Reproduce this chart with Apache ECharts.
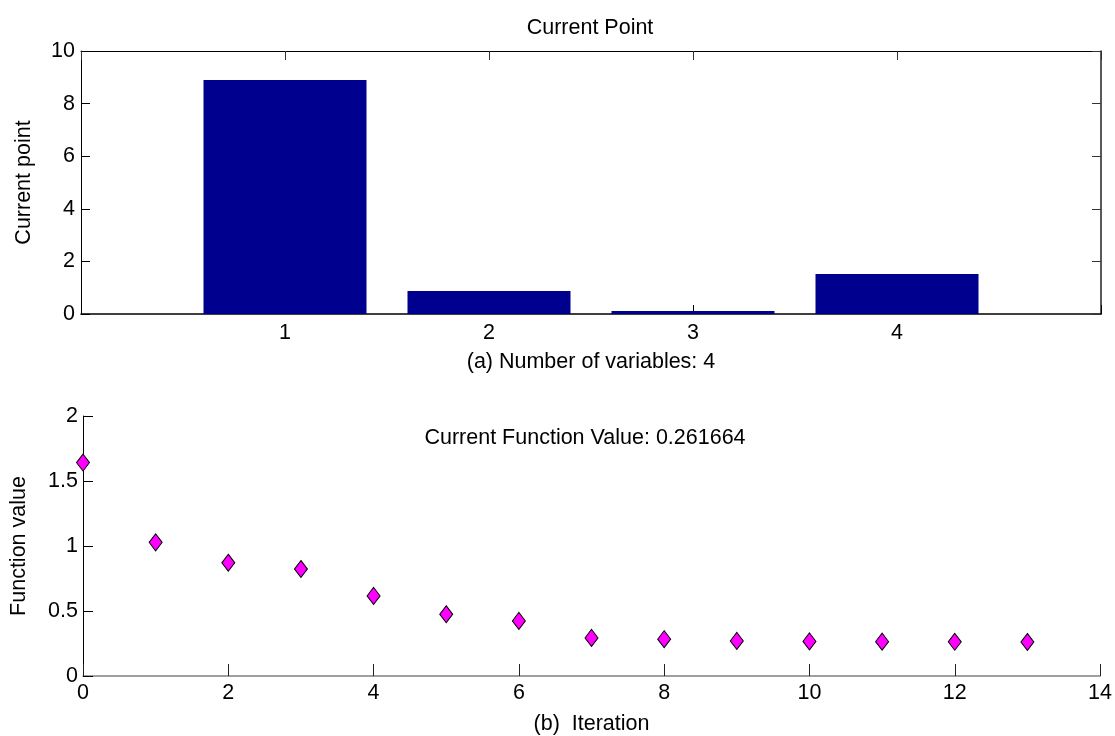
<!DOCTYPE html>
<html>
<head>
<meta charset="utf-8">
<script src="https://cdn.jsdelivr.net/npm/echarts@6/dist/echarts.min.js"></script>
<style>
html,body{margin:0;padding:0;background:#fff;}
#chart{width:1115px;height:736px;}
</style>
</head>
<body>
<div id="chart"></div>
<script>
// Data
const variableCategories = [1, 2, 3, 4];
const currentPoint = [8.9, 0.87, 0.11, 1.52];
const iterations = [0, 1, 2, 3, 4, 5, 6, 7, 8, 9, 10, 11, 12, 13];
const functionValues = [1.642, 1.028, 0.871, 0.823, 0.616, 0.475, 0.424, 0.293, 0.283, 0.270, 0.266, 0.264, 0.263, 0.261664];
const topYTicks = [0, 2, 4, 6, 8, 10];
const bottomYTicks = [0, 0.5, 1, 1.5, 2];
const bottomXTicks = [0, 2, 4, 6, 8, 10, 12, 14];

const FONT = "'Liberation Sans', Arial, sans-serif";
const FS = 21.5;
const chart = echarts.init(document.getElementById('chart'), null, {renderer: 'canvas'});

const lbl = {fontFamily: FONT, fontSize: FS, color: '#000'};
const tick = (len, color) => ({show: true, inside: true, length: len, lineStyle: {color: color || '#000', width: 1}});

const option = {
  animation: false,
  backgroundColor: '#fff',
  title: [
    {text: 'Current Point', left: 585, top: 12, textAlign: 'center',
     textStyle: {fontFamily: FONT, fontSize: FS, fontWeight: 'normal', color: '#000'}},
    {text: 'Current Function Value: ' + functionValues[functionValues.length - 1], left: 580, top: 422, textAlign: 'center',
     textStyle: {fontFamily: FONT, fontSize: FS, fontWeight: 'normal', color: '#000'}}
  ],
  grid: [
    {left: 81, top: 51, width: 1020, height: 263, containLabel: false},
    {left: 81, top: 416, width: 1020, height: 264, containLabel: false}
  ],
  xAxis: [
    {gridIndex: 0, type: 'value', min: 0, max: 5, interval: 1, position: 'bottom',
     axisLine: {show: true, onZero: false, lineStyle: {color: '#000', width: 1.5}},
     axisTick: tick(9),
     axisLabel: Object.assign({}, lbl, {margin: 8, formatter: v => variableCategories.indexOf(v) >= 0 ? String(v) : ''}),
     splitLine: {show: false},
     name: '(a) Number of variables: ' + variableCategories.length, nameLocation: 'middle', nameGap: 37,
     nameTextStyle: lbl},
    {gridIndex: 0, type: 'value', min: 0, max: 5, interval: 1, position: 'top',
     axisLine: {show: true, onZero: false, lineStyle: {color: '#000', width: 1}},
     axisTick: tick(9, '#333'), axisLabel: {show: false}, splitLine: {show: false}},
    {gridIndex: 1, type: 'value', min: 0, max: 14, interval: 2, position: 'bottom',
     axisLine: {show: true, onZero: false, lineStyle: {color: '#808080', width: 1.5}},
     axisTick: tick(12, '#222'),
     axisLabel: Object.assign({}, lbl, {margin: 6}),
     splitLine: {show: false},
     name: '(b)  Iteration', nameLocation: 'middle', nameGap: 37, nameTextStyle: lbl}
  ],
  yAxis: [
    {gridIndex: 0, type: 'value', min: 0, max: 10, interval: 2, position: 'left',
     axisLine: {show: true, onZero: false, lineStyle: {color: '#000', width: 1}},
     axisTick: tick(9), axisLabel: Object.assign({}, lbl, {margin: 6}), splitLine: {show: false},
     name: 'Current point', nameLocation: 'middle', nameRotate: 90, nameGap: 46, nameTextStyle: lbl},
    {gridIndex: 0, type: 'value', min: 0, max: 10, interval: 2, position: 'right',
     axisLine: {show: true, onZero: false, lineStyle: {color: '#222', width: 1.5}},
     axisTick: tick(9, '#333'), axisLabel: {show: false}, splitLine: {show: false}},
    {gridIndex: 1, type: 'value', min: 0, max: 2, interval: 0.5, position: 'left',
     axisLine: {show: true, onZero: false, lineStyle: {color: '#000', width: 1}},
     axisTick: tick(10), axisLabel: Object.assign({}, lbl, {margin: 5}), splitLine: {show: false},
     name: 'Function value', nameLocation: 'middle', nameRotate: 90, nameGap: 53, nameTextStyle: lbl}
  ],
  series: [
    {type: 'bar', xAxisIndex: 0, yAxisIndex: 0, barWidth: 163,
     data: variableCategories.map((c, i) => [c, currentPoint[i]]),
     itemStyle: {color: '#00008f'}},
    {type: 'scatter', xAxisIndex: 2, yAxisIndex: 2, symbol: 'diamond', symbolSize: [13, 17],
     data: iterations.map((it, i) => [it, functionValues[i]]),
     itemStyle: {color: '#ff00ff', borderColor: '#000', borderWidth: 1, opacity: 1}}
  ]
};
chart.setOption(option);
</script>
</body>
</html>
